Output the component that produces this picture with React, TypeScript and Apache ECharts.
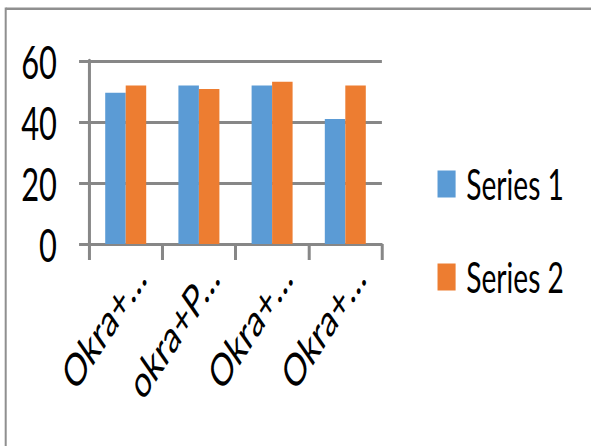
import React, { useEffect, useRef } from "react";
import * as echarts from "echarts";

const categories = ["Okra+…", "okra+P…", "Okra+…", "Okra+…"];
const series1 = [49.6, 52, 52, 41];
const series2 = [52, 50.8, 53.2, 52];
const seriesNames = ["Series 1", "Series 2"];
const colors = ["#5b9bd5", "#ed7d31"];
const yMin = 0;
const yMax = 60;
const yInterval = 20;

const S = 0.67;
const W = Math.round(591 / S);
const H = 446;
const GRAY = "#878787";
const FONT = "Lato";

export default function App() {
  const ref = useRef<HTMLDivElement>(null);
  useEffect(() => {
    if (!ref.current) return;
    const chart = echarts.init(ref.current, null, { renderer: "svg", width: W, height: H });
    chart.setOption({
      animation: false,
      backgroundColor: "#fff",
      color: colors,
      graphic: [
        { type: "rect", shape: { x: 9, y: 7.5, width: W, height: 2.5 }, style: { fill: "#8f8f8f" } },
        { type: "rect", shape: { x: 7, y: 7.5, width: 3, height: H }, style: { fill: "#8f8f8f" } },
      ],
      grid: { left: 133, top: 61, width: 437, height: 183 },
      legend: {
        orient: "vertical",
        left: 648,
        top: 158,
        icon: "rect",
        itemWidth: 27,
        itemHeight: 27,
        itemGap: 51,
        data: seriesNames,
        textStyle: { fontFamily: FONT, fontSize: 42, color: "#000", lineHeight: 27, padding: [0, 0, 0, 11] },
      },
      xAxis: {
        type: "category",
        data: categories,
        axisLine: { show: true, lineStyle: { color: GRAY, width: 3 } },
        axisTick: { show: true, length: 16, lineStyle: { color: GRAY, width: 4.5 } },
        axisLabel: {
          interval: 0,
          rotate: 46,
          margin: 46,
          fontFamily: FONT,
          fontSize: 45,
          color: "#000",
          padding: [0, -30, 0, 0],
        },
      },
      yAxis: {
        type: "value",
        min: yMin,
        max: yMax,
        interval: yInterval,
        axisLine: { show: true, lineStyle: { color: GRAY, width: 4.5 } },
        axisTick: { show: true, length: 15, lineStyle: { color: GRAY, width: 3 } },
        splitLine: { show: true, lineStyle: { color: GRAY, width: 3 } },
        axisLabel: { margin: 48, fontFamily: FONT, fontSize: 46, color: "#000" },
      },
      series: [
        { name: seriesNames[0], type: "bar", data: series1, barGap: "0%", barCategoryGap: "44%" },
        { name: seriesNames[1], type: "bar", data: series2, barGap: "0%", barCategoryGap: "44%" },
      ],
    });
    return () => chart.dispose();
  }, []);
  return (
    <div style={{ position: "fixed", left: 0, top: 0, width: 591, height: 446, overflow: "hidden", background: "#fff" }}>
      <div ref={ref} style={{ width: W, height: H, transform: `scaleX(${S})`, transformOrigin: "0 0" }} />
    </div>
  );
}
